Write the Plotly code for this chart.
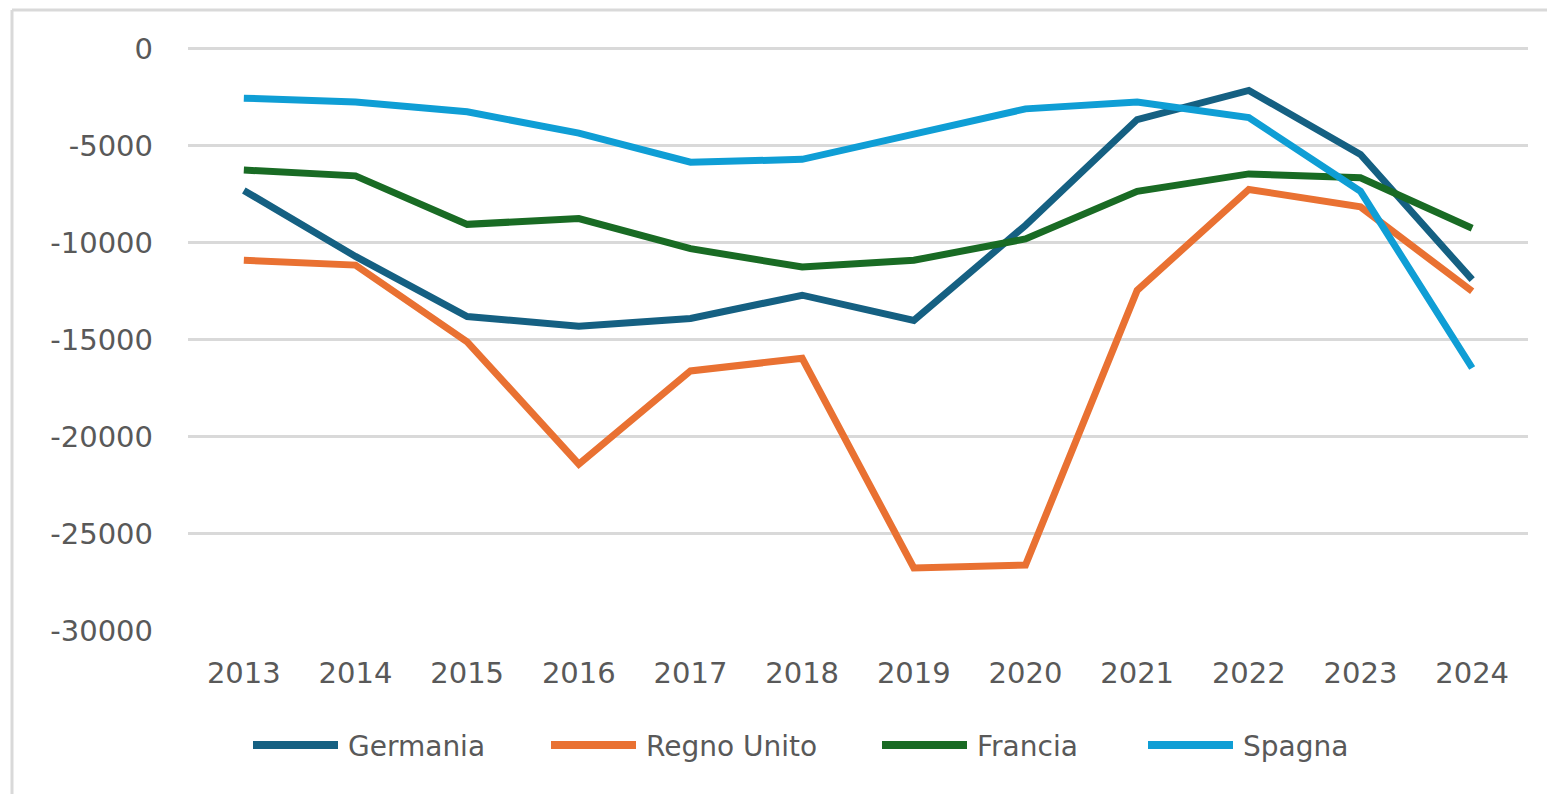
import plotly.graph_objects as go

years = ["2013", "2014", "2015", "2016", "2017", "2018",
         "2019", "2020", "2021", "2022", "2023", "2024"]

germania = [-7300, -10700, -13800, -14300, -13900, -12700,
            -14000, -9100, -3650, -2150, -5450, -11900]
regno_unito = [-10900, -11150, -15100, -21400, -16600, -15950,
               -26750, -26600, -12450, -7250, -8150, -12500]
francia = [-6250, -6550, -9050, -8750, -10300, -11250,
           -10900, -9800, -7350, -6450, -6650, -9250]
spagna = [-2550, -2750, -3250, -4350, -5850, -5700,
          -4400, -3100, -2750, -3550, -7350, -16450]

y_ticks = [0, -5000, -10000, -15000, -20000, -25000, -30000]

series = [
    ("Germania", germania, "#156082"),
    ("Regno Unito", regno_unito, "#E97132"),
    ("Francia", francia, "#196B24"),
    ("Spagna", spagna, "#0F9ED5"),
]

# page is offset by the browser's 8px body margin
L, T, R, B = 180, 31, 35, 171
W, H = 1555, 794
pw = W - L - R
ph = H - T - B


def px(x):
    return (x - 8 - L) / pw


def py(y):
    return (H - B + 8 - y) / ph


fig = go.Figure()
for name, vals, col in series:
    fig.add_trace(go.Scatter(x=years, y=vals, name=name, mode="lines",
                             line=dict(color=col, width=7), showlegend=False))

fig.update_layout(
    width=W, height=H,
    margin=dict(l=L, r=R, t=T, b=B),
    plot_bgcolor="white", paper_bgcolor="white",
    xaxis=dict(type="category", range=[-0.5, 11.5], showgrid=False,
               showline=False, ticks="", ticklabelstandoff=22,
               tickfont=dict(family="DejaVu Sans", size=29, color="#595959")),
    yaxis=dict(range=[-30000, 500], tickvals=y_ticks, ticktext=[str(v) for v in y_ticks],
               showgrid=True, gridcolor="#D9D9D9", gridwidth=2.5,
               zeroline=False, showline=False, ticks="", ticklabelstandoff=34,
               tickfont=dict(family="DejaVu Sans", size=29, color="#595959")),
)

# legend drawn by hand so the sample lines are as long as in the original
leg_x = [253, 551, 882, 1148]
for (name, vals, col), lx in zip(series, leg_x):
    fig.add_shape(type="line", xref="paper", yref="paper",
                  x0=px(lx), x1=px(lx + 85), y0=py(745), y1=py(745),
                  line=dict(color=col, width=8))
    fig.add_annotation(xref="paper", yref="paper", x=px(lx + 93), y=py(746),
                       xanchor="left", yanchor="middle", showarrow=False,
                       text=name, font=dict(family="DejaVu Sans", size=28, color="#595959"))

# outer frame of the chart area
fig.add_shape(type="line", xref="paper", yref="paper",
              x0=px(12), x1=px(1600), y0=py(10), y1=py(10),
              line=dict(color="#D9D9D9", width=3))
fig.add_shape(type="line", xref="paper", yref="paper",
              x0=px(12), x1=px(12), y0=py(10), y1=py(900),
              line=dict(color="#D9D9D9", width=3))

fig.write_html("out.html")
